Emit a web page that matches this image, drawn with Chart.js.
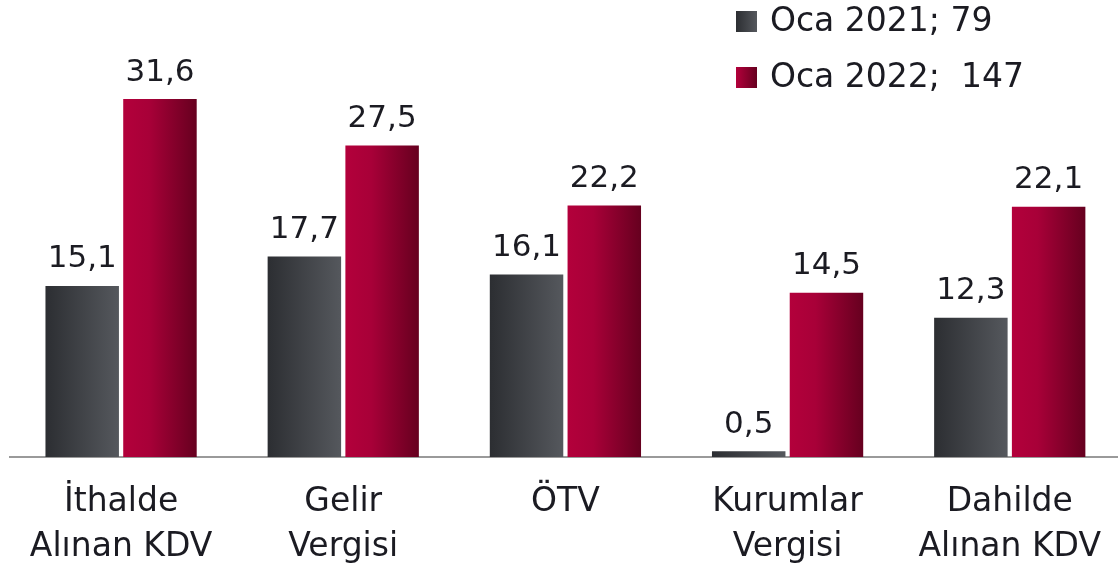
<!DOCTYPE html>
<html>
<head>
    <title>Vergi Gelirleri</title>
    <script src="https://cdn.jsdelivr.net/npm/chart.js@4/dist/chart.umd.min.js"></script>
    <style>
        html, body {
            margin: 0;
            padding: 0;
            background: #ffffff;
            overflow: hidden;
        }
        #chart-wrap {
            position: relative;
            width: 1124px;
            height: 572px;
        }
    </style>
</head>
<body>
    <div id="chart-wrap">
        <canvas id="tax-chart"></canvas>
    </div>

    <script>
        const categories = [
            ['İthalde', 'Alınan KDV'],
            ['Gelir', 'Vergisi'],
            ['ÖTV'],
            ['Kurumlar', 'Vergisi'],
            ['Dahilde', 'Alınan KDV']
        ];
        const seriesNames = ['Oca 2021; 79', 'Oca 2022;  147'];
        const oca2021 = [15.1, 17.7, 16.1, 0.5, 12.3];
        const oca2022 = [31.6, 27.5, 22.2, 14.5, 22.1];

        const FONT = '"DejaVu Sans", sans-serif';
        const TEXT = '#1b1b22';
        // left colour, right colour of each bar gradient
        const shades = [
            ['#2c2e32', '#55585d'],
            ['#b3003b', '#66001f']
        ];

        function fmt(v) {
            return v.toFixed(1).replace('.', ',');
        }

        // horizontal gradient across every bar
        const gradientBars = {
            id: 'gradientBars',
            beforeDatasetsDraw(chart) {
                const ctx = chart.ctx;
                chart.data.datasets.forEach((ds, i) => {
                    chart.getDatasetMeta(i).data.forEach(bar => {
                        const half = bar.width / 2;
                        const g = ctx.createLinearGradient(bar.x - half, 0, bar.x + half, 0);
                        g.addColorStop(0, shades[i][0]);
                        g.addColorStop(i === 1 ? 0.35 : 1, i === 1 ? '#a80038' : shades[i][1]);
                        g.addColorStop(1, shades[i][1]);
                        bar.options = Object.assign({}, bar.options, { backgroundColor: g });
                    });
                });
            }
        };

        // value labels above bars
        const valueLabels = {
            id: 'valueLabels',
            afterDatasetsDraw(chart) {
                const ctx = chart.ctx;
                ctx.save();
                ctx.font = '31px ' + FONT;
                ctx.fillStyle = TEXT;
                ctx.textAlign = 'center';
                ctx.textBaseline = 'bottom';
                chart.data.datasets.forEach((ds, i) => {
                    chart.getDatasetMeta(i).data.forEach((bar, j) => {
                        ctx.fillText(fmt(ds.data[j]), bar.x, bar.y - 11);
                    });
                });
                ctx.restore();
            }
        };

        // legend in the top right corner
        const cornerLegend = {
            id: 'cornerLegend',
            afterDraw(chart) {
                const ctx = chart.ctx;
                ctx.save();
                ctx.font = '33px ' + FONT;
                ctx.textBaseline = 'middle';
                chart.data.datasets.forEach((ds, i) => {
                    const y = 21 + i * 56;
                    const g = ctx.createLinearGradient(736, 0, 757, 0);
                    g.addColorStop(0, shades[i][0]);
                    g.addColorStop(1, shades[i][1]);
                    ctx.fillStyle = g;
                    ctx.fillRect(736, y - 10, 21, 21);
                    ctx.fillStyle = TEXT;
                    ctx.fillText(ds.label, 770, y + 1);
                });
                ctx.restore();
            }
        };

        const chart = new Chart(document.getElementById('tax-chart'), {
            type: 'bar',
            data: {
                labels: categories,
                datasets: [
                    { label: seriesNames[0], data: oca2021, backgroundColor: shades[0][1] },
                    { label: seriesNames[1], data: oca2022, backgroundColor: shades[1][0] }
                ]
            },
            options: {
                responsive: true,
                maintainAspectRatio: false,
                animation: false,
                layout: { padding: { left: 10, right: 0, top: 0, bottom: 0 } },
                categoryPercentage: 0.7,
                barPercentage: 0.945,
                plugins: {
                    legend: { display: false },
                    tooltip: { enabled: false }
                },
                scales: {
                    x: {
                        grid: { display: false, drawTicks: false },
                        border: { display: true, color: '#9a9a9a', width: 2 },
                        ticks: {
                            color: TEXT,
                            font: { family: FONT, size: 33, lineHeight: 1.37 },
                            padding: 23,
                            maxRotation: 0,
                            autoSkip: false
                        },
                        afterFit(scale) {
                            scale.height = 115;
                        }
                    },
                    y: {
                        display: false,
                        min: 0,
                        max: 40.34
                    }
                }
            },
            plugins: [gradientBars, valueLabels, cornerLegend]
        });
    </script>
</body>
</html>
